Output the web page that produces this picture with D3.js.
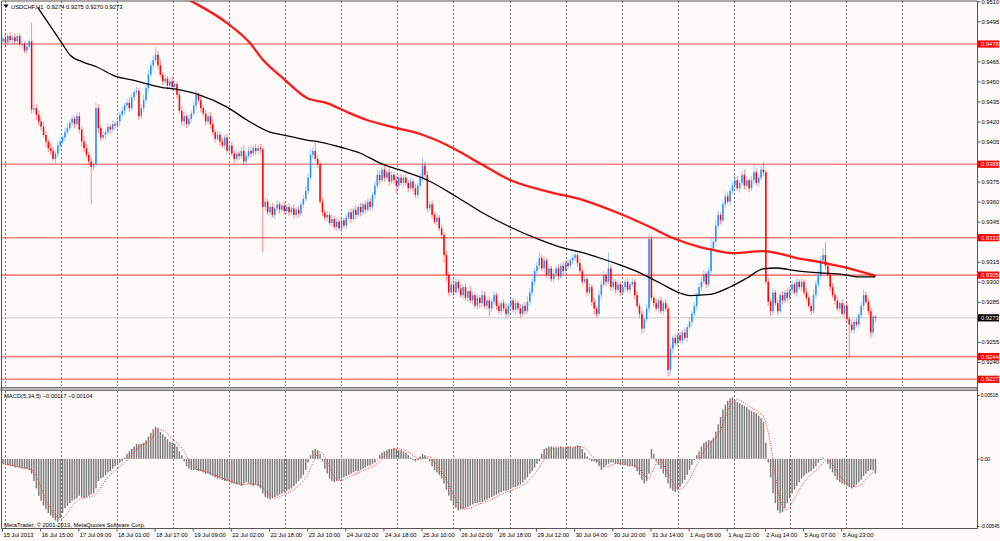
<!DOCTYPE html>
<html>
<head>
<meta charset="utf-8">
<script src="https://cdn.jsdelivr.net/npm/d3@7"></script>
<style>
    html, body { margin: 0; padding: 0; background: #fffafa; }
    svg { display: block; font-family: "Liberation Sans", Arial, sans-serif; }
</style>
</head>
<body>
<div id="chart"></div>
<script>
"use strict"

/* Data: USDCHF H1, prices in pips (x 0.0001), one value per bar */
let symbolName = "USDCHF,H1";
let firstOpen = 9480;

let closes = [
    9482,9479,9484,9481, 9483,9480,9484,9478, 9478,9473,9476,9480, 9429,9430,9425,9420,
    9416,9410,9405,9400, 9398,9392,9396,9402, 9405,9408,9412,9415, 9419,9422,9418,9424,
    9414,9405,9400,9395, 9390,9386,9388,9430, 9415,9408,9410,9412, 9416,9414,9418,9417,
    9420,9425,9428,9432, 9434,9430,9438,9442, 9443,9424,9430,9436, 9445,9455,9462,9466,
    9470,9462,9455,9450, 9452,9447,9450,9446, 9448,9440,9428,9420, 9424,9418,9422,9426,
    9432,9440,9436,9430, 9426,9420,9424,9418, 9412,9407,9410,9405, 9402,9408,9398,9402,
    9396,9392,9396,9394, 9398,9390,9394,9398, 9396,9400,9398,9400, 9399,9356,9360,9352,
    9356,9350,9355,9358, 9354,9357,9353,9356, 9352,9355,9350,9354, 9351,9358,9362,9368,
    9378,9395,9398,9392, 9388,9360,9352,9348, 9350,9344,9347,9341, 9345,9340,9346,9342,
    9348,9352,9347,9354, 9350,9356,9352,9358, 9354,9360,9356,9365, 9372,9380,9376,9384,
    9378,9382,9375,9380, 9376,9372,9378,9374, 9378,9374,9370,9375, 9370,9365,9372,9378,
    9387,9380,9355,9358, 9350,9345,9348,9340, 9335,9320,9305,9292, 9298,9292,9300,9295,
    9290,9296,9288,9293, 9286,9290,9282,9288, 9284,9290,9282,9286, 9280,9285,9290,9282,
    9278,9284,9280,9276, 9282,9286,9279,9284, 9280,9276,9282,9278, 9285,9292,9300,9308,
    9312,9318,9310,9316, 9305,9310,9302,9306, 9310,9304,9312,9308, 9314,9312,9316,9318,
    9320,9314,9308,9300, 9302,9292,9296,9285, 9280,9276,9290,9298, 9305,9300,9310,9296,
    9300,9294,9298,9292, 9296,9300,9294,9298, 9300,9290,9282,9276, 9265,9272,9280,9332,
    9288,9284,9280,9286, 9278,9284,9280,9234, 9250,9258,9254,9260, 9256,9262,9258,9266,
    9270,9276,9282,9290, 9296,9300,9306,9298, 9308,9325,9330,9342, 9350,9346,9358,9364,
    9360,9368,9372,9376, 9370,9374,9380,9372, 9376,9370,9376,9382, 9374,9378,9384,9382,
    9300,9285,9278,9292, 9284,9278,9290,9286, 9292,9288,9294,9298, 9292,9300,9296,9300,
    9292,9288,9282,9278, 9290,9298,9305,9316, 9320,9312,9305,9296, 9290,9286,9280,9284,
    9276,9282,9272,9268, 9264,9270,9268,9275, 9282,9290,9285,9278, 9262,9274,9273
];

// wick lengths above / below the candle body, in pips
let upWicks = [
    2,3,2,3,2,3,2,2,3,2,3,2,14,4,3,3,
    3,4,3,2,4,3,2,3,3,2,3,4,2,3,2,3,
    3,2,4,3,2,3,2,4,3,2,3,2,3,2,3,2,
    3,2,3,2,3,4,3,2,3,2,3,4,3,4,3,3,
    6,3,4,2,3,2,3,4,3,2,3,4,3,2,3,2,
    3,4,2,3,2,3,2,3,4,2,3,2,3,2,3,2,
    3,2,3,2,3,4,2,3,3,2,3,2,3,2,3,2,
    2,3,2,3,2,2,3,2,3,2,3,2,3,2,3,4,
    3,4,3,7,3,2,3,2,3,2,3,2,3,2,3,2,
    3,2,3,2,3,2,3,2,3,2,3,2,3,4,3,6,
    3,2,4,3,2,3,2,3,2,3,2,3,2,3,2,3,
    6,3,3,2,3,2,3,2,3,2,3,2,3,4,3,2,
    3,2,3,2,4,3,2,3,2,4,3,2,3,2,3,2,
    3,2,3,4,2,3,2,3,2,3,2,3,4,3,3,2,
    3,4,2,3,2,3,2,3,2,3,2,3,2,3,2,3,
    3,2,3,2,3,2,3,2,3,2,4,3,3,2,12,3,
    3,2,3,2,3,2,3,2,3,2,3,2,3,2,3,4,
    3,2,3,2,3,2,3,2,3,2,3,2,3,2,3,2,
    3,2,3,2,3,4,3,2,3,8,3,4,3,2,3,4,
    3,2,3,4,3,2,3,4,3,2,3,6,3,2,3,6,
    2,3,2,3,2,3,2,3,2,3,2,3,2,3,2,3,
    2,3,2,3,4,3,4,3,5,10,3,2,3,2,3,2,
    3,2,3,2,3,2,3,2,3,4,3,2,3,2,1
];

let downWicks = [
    2,3,2,2,3,2,3,2,3,2,3,2,3,3,4,3,
    3,2,4,3,3,2,3,3,3,2,3,2,3,2,3,2,
    3,4,3,2,3,28,3,2,4,3,2,3,2,3,2,3,
    2,3,2,3,2,3,2,3,2,3,2,3,2,3,2,3,
    2,3,2,3,2,3,2,3,2,3,2,3,4,3,2,3,
    2,3,2,3,2,3,2,3,2,3,2,3,2,3,2,3,
    2,3,2,3,2,3,4,2,3,2,3,2,3,34,3,2,
    3,2,3,2,3,2,3,2,3,2,3,2,3,2,3,2,
    3,2,3,2,3,2,3,2,3,2,3,2,3,2,3,2,
    3,2,3,2,3,2,3,2,3,2,3,2,3,2,3,2,
    3,2,3,2,3,6,3,2,3,2,3,2,3,2,3,2,
    3,2,3,2,3,2,3,2,3,6,5,3,2,3,2,3,
    2,3,2,3,2,3,2,3,4,3,2,3,6,3,2,3,
    2,3,2,3,2,3,2,3,2,3,2,3,2,3,2,3,
    2,3,2,3,2,3,2,3,2,3,2,3,2,3,2,3,
    2,3,2,3,2,3,2,3,5,3,2,3,2,3,2,3,
    2,3,2,3,2,3,2,3,2,3,2,3,4,3,2,3,
    2,3,2,3,2,3,2,5,3,4,2,3,2,3,2,3,
    2,3,2,3,2,3,2,3,2,3,2,3,2,3,2,3,
    2,3,2,3,2,3,2,3,2,3,2,3,2,3,2,3,
    2,3,4,3,2,3,2,3,2,3,2,3,2,3,2,3,
    2,3,2,3,2,3,2,3,2,3,2,3,2,3,2,3,
    2,3,2,25,2,3,2,3,2,3,2,3,4,2,3
];

// MACD(5,34,5) main line, x 0.0001
let macdVals = [
    -4,-5,-5,-6,-6,-7,-7,-7,-8,-8,-8,-9,-12,-18,-24,-30,
    -34,-38,-41,-44,-46,-48,-50,-51,-48,-44,-40,-38,-36,-34,-33,-32,
    -30,-31,-32,-31,-30,-29,-28,-24,-18,-16,-15,-13,-11,-10,-8,-6,
    -4,-3,-2,1,4,6,8,10,12,12,12,13,15,18,21,24,
    26,25,22,20,18,16,14,13,12,10,6,3,-2,-6,-8,-9,
    -9,-9,-10,-10,-11,-12,-12,-13,-14,-15,-16,-16,-17,-18,-18,-19,
    -20,-20,-21,-21,-22,-20,-19,-20,-21,-22,-21,-22,-24,-28,-31,-32,
    -33,-32,-31,-30,-29,-28,-27,-26,-25,-24,-22,-20,-18,-16,-13,-9,
    -3,3,7,8,7,4,-2,-8,-12,-16,-18,-19,-18,-17,-16,-15,
    -14,-13,-12,-11,-10,-10,-9,-8,-7,-6,-5,-4,-3,0,3,5,
    6,7,8,8,9,8,7,7,6,5,3,1,-1,-2,-1,2,
    4,3,1,-2,-6,-9,-11,-13,-16,-20,-25,-30,-34,-38,-40,-42,
    -41,-41,-40,-39,-38,-37,-36,-36,-35,-35,-34,-33,-32,-31,-30,-29,
    -28,-27,-26,-26,-25,-24,-23,-23,-22,-21,-19,-17,-15,-12,-10,-7,
    -4,-2,4,8,9,10,10,9,9,9,10,9,9,10,10,9,
    10,11,10,8,5,2,-1,-2,-2,-3,-6,-9,-7,-5,-4,-3,
    -3,-4,-4,-5,-5,-5,-6,-6,-6,-7,-10,-13,-17,-20,-18,-12,
    8,4,-2,-5,-8,-12,-15,-20,-24,-26,-27,-25,-23,-20,-17,-13,
    -9,-5,-1,3,6,10,13,14,15,15,17,22,28,34,40,44,
    47,49,50,48,46,45,44,43,42,40,39,38,37,35,33,30,
    13,-3,-15,-28,-36,-42,-44,-43,-40,-36,-32,-28,-25,-22,-19,-16,
    -14,-12,-11,-10,-8,-6,-3,-1,1,0,-4,-8,-11,-14,-17,-19,
    -20,-21,-22,-23,-24,-23,-21,-19,-17,-14,-12,-10,-9,-9.5,-11.7
];

// moving averages: bar index / price
let maBlackBars = [14.7,24.7,28.1,33.6,39.4,47,54.5,65.9,74.2,82.6,94,102.3,112,117.4,127.5,133,141.4,149.7,158.1,166.5,177.9,190.4,201.3,212.7,225.3,234.9,242,250.4,258.8,267.2,275.6,284,288.2,296.6,305,312.1,318.8,324.7,333,342.7,351.1,359.5,366];
let maBlackVals = [0.95050,0.94787,0.94698,0.94645,0.94608,0.94540,0.94510,0.94458,0.94436,0.94398,0.94308,0.94211,0.94121,0.94099,0.94061,0.94046,0.94009,0.93964,0.93889,0.93837,0.93762,0.93635,0.93515,0.93410,0.93313,0.93253,0.93223,0.93178,0.93126,0.93066,0.92991,0.92916,0.92897,0.92905,0.92961,0.93028,0.93096,0.93103,0.93081,0.93066,0.93058,0.93036,0.93036];
let maRedBars = [76,79.7,94,103.6,109.1,117.4,127.5,135.9,144.3,152.7,165.3,176.2,186.2,191.7,201.3,212.7,229.4,243.3,260.1,271.4,281,292.4,297.8,306.2,318.8,324.7,333,342.7,352.3,366];
let maRedVals = [0.95130,0.95094,0.94937,0.94787,0.94660,0.94525,0.94376,0.94338,0.94271,0.94211,0.94151,0.94099,0.94024,0.93971,0.93874,0.93762,0.93672,0.93612,0.93500,0.93410,0.93328,0.93260,0.93238,0.93215,0.93230,0.93215,0.93178,0.93148,0.93111,0.93044];

let levelLines = [0.9478, 0.9388, 0.9333, 0.9305, 0.9244, 0.9227];
let bidPrice = 0.9273;
let priceTicks = [0.9510,0.9495,0.9480,0.9465,0.9450,0.9435,0.9420,0.9405,0.9390,0.9375,0.9360,0.9345,0.9330,0.9315,0.9300,0.9285,0.9270,0.9255,0.9240,0.9225];
let macdTicks = [0.00518, 0, -0.00545];
let macdTickLabels = ["0.00518", "0.00", "-0.00545"];
let timeLabels = ["15 Jul 2013","16 Jul 15:00","17 Jul 09:00","18 Jul 01:00","18 Jul 17:00","19 Jul 09:00",
    "22 Jul 02:00","22 Jul 18:00","23 Jul 10:00","24 Jul 02:00","24 Jul 18:00","25 Jul 10:00","26 Jul 02:00",
    "26 Jul 18:00","29 Jul 12:00","30 Jul 04:00","30 Jul 20:00","31 Jul 14:00","1 Aug 06:00","1 Aug 22:00",
    "2 Aug 14:00","5 Aug 07:00","5 Aug 23:00"];
let barsPerLabel = 16;

/* Layout */
let svgWidth = 1000;
let svgHeight = 541;
let plotLeft = 1;
let plotRight = 977;
let priceTop = 1;
let priceBottom = 386;
let macdTop = 391;
let macdBottom = 528;
let fontSize = 5.8;

let bars = closes.map(function(c, i) {
    let o = i === 0 ? firstOpen : closes[i - 1];
    return {
        i: i,
        open: o / 1e4,
        close: c / 1e4,
        high: (Math.max(o, c) + upWicks[i]) / 1e4,
        low: (Math.min(o, c) - downWicks[i]) / 1e4,
        macd: macdVals[i] / 1e4
    };
});
// signal = SMA(5) of the main line
bars.forEach(function(d, i) {
    let part = bars.slice(Math.max(0, i - 4), i + 1);
    d.signal = d3.mean(part, function(p) { return p.macd; });
});
let lastBar = bars[bars.length - 1];

let xScale = d3.scaleLinear()
    .domain([0, bars.length - 1])
    .range([3, 875.5]);

let yPrice = d3.scaleLinear()
    .domain([0.92225, 0.95102])
    .range([385.3, 1]);

let yMacd = d3.scaleLinear()
    .domain([-0.00545, 0.00518])
    .range([526, 395]);

let svg = d3.select("#chart")
    .append("svg")
    .attr("width", svgWidth)
    .attr("height", svgHeight);

svg.append("rect")
    .attr("width", svgWidth)
    .attr("height", svgHeight)
    .attr("fill", "#fffafa");

let defs = svg.append("defs");
defs.append("clipPath").attr("id", "clipPrice")
    .append("rect")
    .attr("x", plotLeft).attr("y", priceTop)
    .attr("width", plotRight - plotLeft).attr("height", priceBottom - priceTop);
defs.append("clipPath").attr("id", "clipMacd")
    .append("rect")
    .attr("x", plotLeft).attr("y", macdTop)
    .attr("width", plotRight - plotLeft).attr("height", macdBottom - macdTop);

/* vertical dotted grid (fixed pixel step of MT4) */
let gridBars = d3.range(0.84, bars.length + 30, 23.515);
[[priceTop, priceBottom], [macdTop, macdBottom]].forEach(function(p) {
    svg.append("g").selectAll("line")
        .data(gridBars.filter(function(b) { return xScale(b) < plotRight - 2; }))
        .join("line")
        .attr("x1", function(b) { return Math.round(xScale(b)) + 0.5; })
        .attr("x2", function(b) { return Math.round(xScale(b)) + 0.5; })
        .attr("y1", p[0])
        .attr("y2", p[1])
        .attr("stroke", "#444")
        .attr("stroke-width", 1)
        .attr("stroke-dasharray", "2,2")
        .attr("opacity", 0.75);
});

/**** price panel ****/
let pricePane = svg.append("g").attr("clip-path", "url(#clipPrice)");

// horizontal levels
pricePane.selectAll(".level")
    .data(levelLines)
    .join("line")
    .attr("x1", plotLeft).attr("x2", plotRight)
    .attr("y1", function(d) { return yPrice(d); })
    .attr("y2", function(d) { return yPrice(d); })
    .attr("stroke", "#ff5a5a")
    .attr("stroke-opacity", 0.75)
    .attr("stroke-width", 1.6);

pricePane.append("line")
    .attr("x1", plotLeft).attr("x2", plotRight)
    .attr("y1", yPrice(bidPrice)).attr("y2", yPrice(bidPrice))
    .attr("stroke", "#c8c8c8")
    .attr("stroke-width", 1);

// candles
let candleColor = function(d) { return d.close >= d.open ? "#1e90ff" : "#ff0000"; };

pricePane.append("g").selectAll("line")
    .data(bars)
    .join("line")
    .attr("x1", function(d) { return xScale(d.i); })
    .attr("x2", function(d) { return xScale(d.i); })
    .attr("y1", function(d) { return yPrice(d.high); })
    .attr("y2", function(d) { return yPrice(d.low); })
    .attr("stroke", candleColor)
    .attr("stroke-opacity", 0.45)
    .attr("stroke-width", 1);

pricePane.append("g").selectAll("rect")
    .data(bars)
    .join("rect")
    .attr("x", function(d) { return xScale(d.i) - 0.75; })
    .attr("width", 1.5)
    .attr("y", function(d) { return yPrice(Math.max(d.open, d.close)); })
    .attr("height", function(d) {
        return Math.max(0.8, Math.abs(yPrice(d.open) - yPrice(d.close)));
    })
    .attr("fill", candleColor);

// moving averages
let maLine = d3.line()
    .x(function(d) { return xScale(d[0]); })
    .y(function(d) { return yPrice(d[1]); })
    .curve(d3.curveMonotoneX);

pricePane.append("path")
    .attr("d", maLine(d3.zip(maRedBars, maRedVals)))
    .attr("fill", "none")
    .attr("stroke", "#ff0000")
    .attr("stroke-opacity", 0.9)
    .attr("stroke-width", 2.3);

pricePane.append("path")
    .attr("d", maLine(d3.zip(maBlackBars, maBlackVals)))
    .attr("fill", "none")
    .attr("stroke", "#000")
    .attr("stroke-width", 1.3);

// title
svg.append("path")
    .attr("d", "M3.5,4.5 L8.5,4.5 L6,8 Z")
    .attr("fill", "#000");

let fmt4 = d3.format(".4f");
svg.append("text")
    .attr("x", 11)
    .attr("y", 8.8)
    .attr("font-size", fontSize)
    .attr("fill", "#000")
    .attr("xml:space", "preserve")
    .text(symbolName + "  " + [lastBar.open, lastBar.high, lastBar.low, lastBar.close].map(fmt4).join(" "));

/**** MACD panel ****/
let macdPane = svg.append("g").attr("clip-path", "url(#clipMacd)");

macdPane.append("g").selectAll("rect")
    .data(bars)
    .join("rect")
    .attr("x", function(d) { return xScale(d.i) - 0.7; })
    .attr("width", 1.4)
    .attr("y", function(d) { return Math.min(yMacd(d.macd), yMacd(0)); })
    .attr("height", function(d) { return Math.max(0.6, Math.abs(yMacd(d.macd) - yMacd(0))); })
    .attr("fill", "#767676");

macdPane.append("path")
    .attr("d", d3.line()
        .x(function(d) { return xScale(d.i); })
        .y(function(d) { return yMacd(d.signal); })(bars))
    .attr("fill", "none")
    .attr("stroke", "#ff2a2a")
    .attr("stroke-width", 1)
    .attr("stroke-dasharray", "1,1.5");

let fmt5 = d3.format(".5f");
svg.append("text")
    .attr("x", 4)
    .attr("y", 398)
    .attr("font-size", fontSize)
    .attr("fill", "#000")
    .text("MACD(5,34,5) " + fmt5(lastBar.macd) + " " + fmt5(lastBar.signal));

svg.append("text")
    .attr("x", 4)
    .attr("y", 527)
    .attr("font-size", fontSize)
    .attr("fill", "#000")
    .text("MetaTrader, \u00a9 2001-2013, MetaQuotes Software Corp.");

/**** frame and separator ****/
svg.append("rect")
    .attr("x", plotLeft)
    .attr("y", 387.5)
    .attr("width", plotRight - plotLeft)
    .attr("height", 3)
    .attr("fill", "#b8b8b8")
    .attr("stroke", "#6e6e6e")
    .attr("stroke-width", 0.9);

svg.append("path")
    .attr("d", "M" + (plotLeft + 0.5) + "," + priceTop + " V" + (macdBottom + 0.5)
        + " H" + (plotRight + 0.5) + " V" + priceTop + " H" + (plotLeft + 0.5))
    .attr("fill", "none")
    .attr("stroke", "#555")
    .attr("stroke-width", 1);

/**** axes ****/
// scale labels hidden behind a level tag are not drawn
let tagPrices = levelLines.concat([bidPrice]);
let visibleTicks = priceTicks.filter(function(t) {
    return tagPrices.every(function(v) { return Math.abs(yPrice(t) - yPrice(v)) > 4.5; });
});

let priceAxis = svg.append("g")
    .attr("transform", "translate(" + (plotRight + 0.5) + ",0)")
    .call(d3.axisRight(yPrice)
        .tickValues(visibleTicks)
        .tickFormat(fmt4)
        .tickSize(3)
        .tickPadding(1));
priceAxis.select(".domain").remove();
priceAxis.selectAll("text").attr("font-size", fontSize).attr("fill", "#000").attr("font-family", null);
priceAxis.selectAll("line").attr("stroke", "#555");

let macdAxis = svg.append("g")
    .attr("transform", "translate(" + (plotRight + 0.5) + ",0)")
    .call(d3.axisRight(yMacd)
        .tickValues(macdTicks)
        .tickFormat(function(d, i) { return macdTickLabels[i]; })
        .tickSize(2)
        .tickPadding(1));
macdAxis.select(".domain").remove();
macdAxis.selectAll("text")
    .attr("font-size", 5.1)
    .attr("fill", "#000")
    .attr("font-family", null)
    .attr("letter-spacing", -0.15);
macdAxis.selectAll("line").attr("stroke", "#555");

// level tags on the price scale
let tagData = levelLines.map(function(v) { return { v: v, bg: "#ff0000" }; })
    .concat([{ v: bidPrice, bg: "#000" }]);
let tags = svg.append("g").selectAll("g")
    .data(tagData)
    .join("g")
    .attr("transform", function(d) { return "translate(" + (plotRight + 1) + "," + yPrice(d.v) + ")"; });
tags.append("rect")
    .attr("x", 0)
    .attr("y", -3.6)
    .attr("width", 21)
    .attr("height", 7.2)
    .attr("fill", function(d) { return d.bg; });
tags.append("text")
    .attr("x", 3)
    .attr("y", 2.1)
    .attr("font-size", fontSize)
    .attr("fill", "#fff")
    .text(function(d) { return fmt4(d.v); });

// time axis
let labelBars = timeLabels.map(function(t, k) { return k * barsPerLabel; });
let timeAxis = svg.append("g")
    .attr("transform", "translate(0," + (macdBottom + 0.5) + ")")
    .call(d3.axisBottom(xScale)
        .tickValues(labelBars)
        .tickFormat(function(d, i) { return timeLabels[i]; })
        .tickSize(3)
        .tickPadding(1));
timeAxis.select(".domain").remove();
timeAxis.selectAll(".tick line").attr("stroke", "#555").attr("transform", "translate(-1,0)");
timeAxis.selectAll("text")
    .attr("font-size", fontSize)
    .attr("fill", "#000")
    .attr("font-family", null)
    .attr("text-anchor", "start")
    .attr("x", 0)
    .attr("dy", "0.71em");
</script>
</body>
</html>
